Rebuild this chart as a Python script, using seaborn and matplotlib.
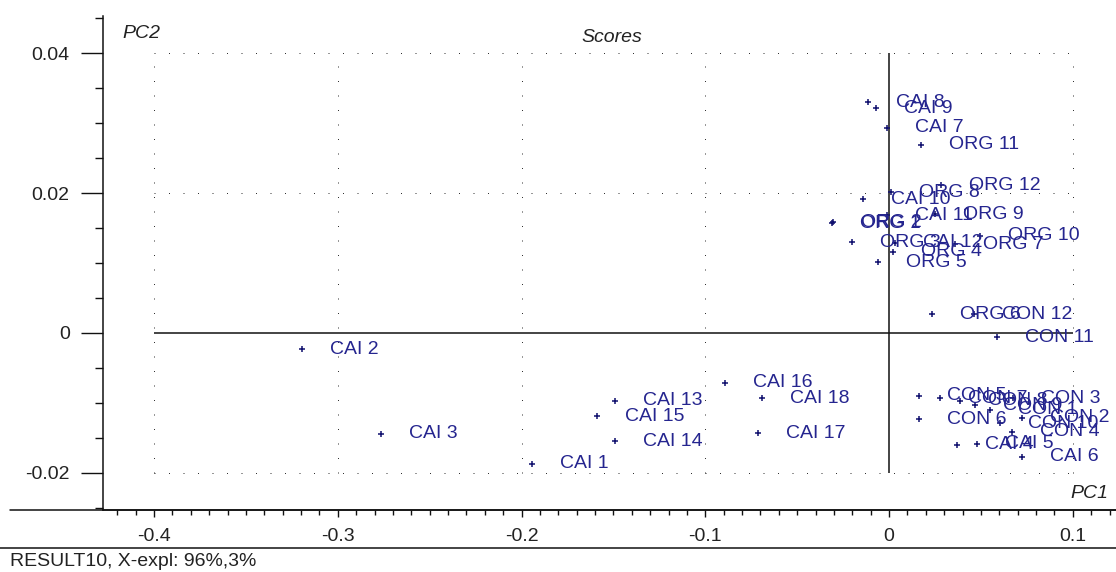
import matplotlib
matplotlib.use("Agg")
import matplotlib.pyplot as plt
import seaborn as sns
import pandas as pd
from matplotlib.lines import Line2D

# ---- data ----
names = ["CAI 1", "CAI 2", "CAI 3", "CAI 4", "CAI 5", "CAI 6", "CAI 7", "CAI 8", "CAI 9",
         "CAI 10", "CAI 11", "CAI 12", "CAI 13", "CAI 14", "CAI 15", "CAI 16", "CAI 17", "CAI 18",
         "ORG 1", "ORG 2", "ORG 3", "ORG 4", "ORG 5", "ORG 6", "ORG 7", "ORG 8", "ORG 9",
         "ORG 10", "ORG 11", "ORG 12",
         "CON 1", "CON 2", "CON 3", "CON 4", "CON 5", "CON 6", "CON 7", "CON 8", "CON 9",
         "CON 10", "CON 11", "CON 12"]
pc1 = [-0.1943, -0.3195, -0.2765, 0.0370, 0.0480, 0.0724, -0.0011, -0.0114, -0.0071,
       -0.0141, -0.0011, 0.0033, -0.1491, -0.1491, -0.1590, -0.0893, -0.0713, -0.0690,
       -0.0310, -0.0307, -0.0201, 0.0022, -0.0060, 0.0234, 0.0359, 0.0011, 0.0250,
       0.0495, 0.0174, 0.0283,
       0.0550, 0.0724, 0.0675, 0.0669, 0.0163, 0.0163, 0.0278, 0.0386, 0.0468,
       0.0604, 0.0588, 0.0463]
pc2 = [-0.0187, -0.0023, -0.0144, -0.0160, -0.0158, -0.0177, 0.0293, 0.0330, 0.0321,
       0.0191, 0.0168, 0.0129, -0.0097, -0.0155, -0.0119, -0.0071, -0.0143, -0.0093,
       0.0157, 0.0158, 0.0130, 0.0116, 0.0101, 0.0027, 0.0127, 0.0201, 0.0170,
       0.0139, 0.0269, 0.0211,
       -0.0110, -0.0121, -0.0093, -0.0141, -0.0090, -0.0123, -0.0093, -0.0097, -0.0103,
       -0.0129, -0.0006, 0.0027]

x_major = [-0.4, -0.3, -0.2, -0.1, 0.0, 0.1]
x_labels = ["-0.4", "-0.3", "-0.2", "-0.1", "0", "0.1"]
y_major = [-0.02, 0.0, 0.02, 0.04]
y_labels = ["-0.02", "0", "0.02", "0.04"]
grid_x = [-0.4, -0.3, -0.2, -0.1, 0.1]
grid_y = [-0.02, 0.02, 0.04]

df = pd.DataFrame({"name": names, "PC1": pc1, "PC2": pc2})

sns.set_style("white")
plt.rcParams["font.family"] = ["Liberation Sans", "DejaVu Sans"]

W, H, DPI = 1116, 572, 100
fig = plt.figure(figsize=(W / DPI, H / DPI), dpi=DPI)
ax = fig.add_axes([103 / W, (H - 510) / H, (W - 103) / W, (510 - 16) / H])
ax.set_xlim(-0.4278, 0.1235)
ax.set_ylim(-0.02529, 0.04529)

# dotted grid inside the box
dot = (0, (1, 13.5))
ax.vlines(grid_x, -0.02, 0.04, colors="#333333", linewidth=0.72, linestyles=[dot], zorder=1)
ax.hlines(grid_y, -0.4, 0.1, colors="#333333", linewidth=0.72, linestyles=[dot], zorder=1)
# solid zero lines
ax.hlines([0.0], -0.4, 0.1, colors="#111111", linewidth=1.1, zorder=2)
ax.vlines([0.0], -0.02, 0.04, colors="#111111", linewidth=1.1, zorder=2)

sns.scatterplot(data=df, x="PC1", y="PC2", ax=ax, marker="+", s=20, color="#10106e",
                linewidth=1.1, legend=False, zorder=3)

for n, xv, yv in zip(df["name"], df["PC1"], df["PC2"]):
    ax.annotate(n, (xv, yv), xytext=(20.2, 0), textcoords="offset points",
                va="center", ha="left", fontsize=14, color="#25258f",
                annotation_clip=False, zorder=4)

# axes styling
for s in ["top", "right"]:
    ax.spines[s].set_visible(False)
for s in ["left", "bottom"]:
    ax.spines[s].set_color("#111111")
    ax.spines[s].set_linewidth(1.1)

ax.set_xticks(x_major)
ax.set_xticklabels(x_labels)
ax.set_yticks(y_major)
ax.set_yticklabels(y_labels)
ax.set_xticks([v / 100 for v in range(-42, 13)], minor=True)
ax.set_yticks([v / 1000 for v in range(-25, 46, 5)], minor=True)
ax.tick_params(axis="x", which="major", direction="out", length=5, width=1.0,
               pad=8, labelsize=14, colors="#111111", labelcolor="#222222", bottom=True)
ax.tick_params(axis="x", which="minor", direction="out", length=3.6, width=1.0,
               colors="#111111", bottom=True)
ax.tick_params(axis="y", which="major", direction="out", length=16, width=1.0,
               pad=8, labelsize=14, colors="#111111", labelcolor="#222222", left=True)
ax.tick_params(axis="y", which="minor", direction="out", length=5.8, width=1.0,
               colors="#111111", left=True)
ax.set_xlabel("")
ax.set_ylabel("")

# in-plot titles
fig.text(122 / W, 1 - 33 / H, "PC2", fontsize=14, style="italic",
         va="center", ha="left", color="#222222")
fig.text(612 / W, 1 - 38 / H, "Scores", fontsize=14, style="italic",
         va="center", ha="center", color="#222222")
fig.text(1108 / W, 1 - 493 / H, "PC1", fontsize=14,
         style="italic", va="center", ha="right", color="#222222")

# extended bottom axis line and separator
fig.add_artist(Line2D([10 / W, 1.0], [(H - 510) / H] * 2, transform=fig.transFigure,
                      color="#111111", linewidth=1.1))
fig.add_artist(Line2D([0.0, 1.0], [(H - 548) / H] * 2, transform=fig.transFigure,
                      color="#111111", linewidth=1.1))
fig.text(10 / W, 1 - 561 / H, "RESULT10, X-expl: 96%,3%", fontsize=14,
         va="center", ha="left", color="#222222")

fig.savefig("out.png", dpi=DPI)
